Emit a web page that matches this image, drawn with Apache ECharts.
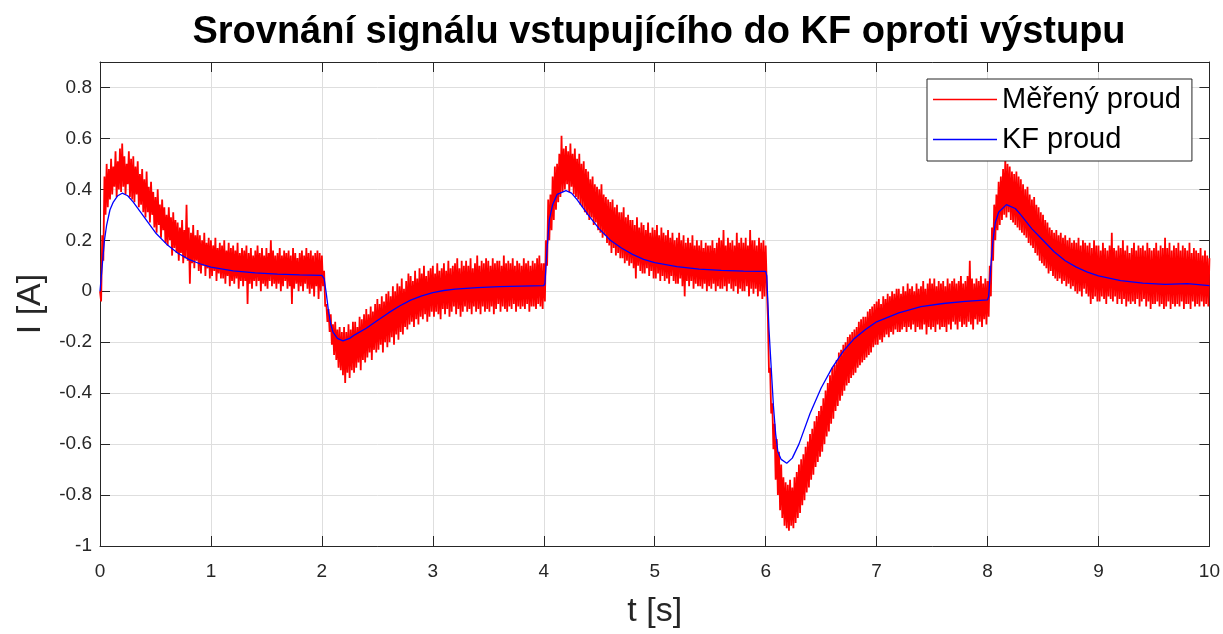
<!DOCTYPE html>
<html>
<head>
<meta charset="utf-8">
<script src="https://cdn.jsdelivr.net/npm/echarts@6/dist/echarts.min.js"></script>
<style>
html,body{margin:0;padding:0;background:#fff;}
#chart{width:1223px;height:634px;}
</style>
</head>
<body>
<div id="chart"></div>
<script>
// ---- data ----
const titleText = 'Srovnání signálu vstupujícího do KF oproti výstupu';
const seriesNames = ['Měřený proud', 'KF proud'];
const xTickValues = [0,1,2,3,4,5,6,7,8,9,10];
const xTickLabels = ['0','1','2','3','4','5','6','7','8','9','10'];
const yTickValues = [-1,-0.8,-0.6,-0.4,-0.2,0,0.2,0.4,0.6,0.8];
const yTickLabels = ['-1','-0.8','-0.6','-0.4','-0.2','0','0.2','0.4','0.6','0.8'];

// measured current: alternating noise peaks / troughs, one sample every 0.01 s (t = 0 .. 10 s), 10 per row
const measuredStep = 0.01;
const measured = [
  0.00,-0.04, 0.22, 0.12, 0.45, 0.30, 0.50, 0.33, 0.48, 0.36,
  0.52, 0.38, 0.49, 0.41, 0.55, 0.37, 0.51, 0.40, 0.56, 0.39,
  0.58, 0.41, 0.53, 0.38, 0.50, 0.42, 0.55, 0.37, 0.52, 0.36,
  0.53, 0.35, 0.49, 0.38, 0.51, 0.33, 0.46, 0.34, 0.48, 0.31,
  0.44, 0.29, 0.47, 0.31, 0.41, 0.27, 0.43, 0.30, 0.39, 0.25,
  0.37, 0.23, 0.40, 0.26, 0.34, 0.21, 0.36, 0.24, 0.33, 0.19,
  0.30, 0.18, 0.33, 0.20, 0.29, 0.14, 0.31, 0.17, 0.28, 0.15,
  0.27, 0.12, 0.25, 0.15, 0.28, 0.11, 0.24, 0.13, 0.34, 0.12,
  0.25, 0.03, 0.23, 0.11, 0.26, 0.09, 0.22, 0.12, 0.24, 0.08,
  0.22, 0.07, 0.20, 0.10, 0.23, 0.06, 0.19, 0.09, 0.21, 0.05,
  0.20, 0.06, 0.18, 0.08, 0.21, 0.04, 0.17, 0.07, 0.19, 0.05,
  0.18, 0.05, 0.20, 0.03, 0.16, 0.06, 0.19, 0.02, 0.17, 0.04,
  0.18, 0.03, 0.16, 0.05, 0.19, 0.01, 0.15, 0.04, 0.17, 0.02,
  0.16, 0.04, 0.18,-0.05, 0.15, 0.03, 0.17, 0.01, 0.14, 0.04,
  0.16, 0.02, 0.18, 0.04, 0.15, 0.00, 0.17, 0.03, 0.14, 0.02,
  0.17, 0.01, 0.15, 0.04, 0.20, 0.02, 0.16, 0.03, 0.14, 0.01,
  0.15, 0.03, 0.17, 0.00, 0.14, 0.02, 0.16, 0.04, 0.15, 0.01,
  0.16, 0.02, 0.14,-0.05, 0.17, 0.01, 0.15, 0.03, 0.13, 0.00,
  0.15, 0.02, 0.16, 0.00, 0.14, 0.03, 0.17, 0.01, 0.15,-0.01,
  0.16, 0.01, 0.14,-0.02, 0.15, 0.02, 0.16,-0.03, 0.15, 0.00,
  0.14, 0.02, 0.08,-0.06,-0.05,-0.12,-0.07,-0.16,-0.09,-0.21,
 -0.13,-0.25,-0.12,-0.27,-0.15,-0.30,-0.14,-0.31,-0.16,-0.33,
 -0.14,-0.36,-0.16,-0.32,-0.13,-0.34,-0.15,-0.31,-0.12,-0.32,
 -0.12,-0.30,-0.14,-0.28,-0.10,-0.31,-0.11,-0.27,-0.09,-0.28,
 -0.07,-0.26,-0.09,-0.24,-0.06,-0.27,-0.08,-0.23,-0.05,-0.24,
 -0.03,-0.23,-0.05,-0.21,-0.02,-0.24,-0.04,-0.20,-0.01,-0.22,
  0.00,-0.20,-0.02,-0.18, 0.02,-0.21, 0.00,-0.17, 0.03,-0.19,
  0.02,-0.16, 0.05,-0.17, 0.01,-0.14, 0.04,-0.15, 0.07,-0.13,
  0.06,-0.12, 0.04,-0.14, 0.08,-0.11, 0.05,-0.13, 0.09,-0.10,
  0.07,-0.11, 0.10,-0.09, 0.06,-0.12, 0.08,-0.10, 0.09,-0.08,
  0.10,-0.10, 0.07,-0.08, 0.11,-0.09, 0.08,-0.11, 0.09,-0.07,
  0.11,-0.09, 0.08,-0.07, 0.12,-0.10, 0.09,-0.08, 0.10,-0.06,
  0.11,-0.09, 0.13,-0.07, 0.09,-0.10, 0.12,-0.08, 0.10,-0.06,
  0.12,-0.08, 0.10,-0.07, 0.13,-0.09, 0.09,-0.06, 0.11,-0.08,
  0.14,-0.07, 0.10,-0.09, 0.12,-0.06, 0.11,-0.08, 0.13,-0.07,
  0.12,-0.08, 0.10,-0.06, 0.13,-0.09, 0.11,-0.07, 0.12,-0.05,
  0.12,-0.08, 0.10,-0.06, 0.14,-0.07, 0.11,-0.08, 0.12,-0.06,
  0.11,-0.07, 0.13,-0.05, 0.10,-0.08, 0.12,-0.06, 0.11,-0.07,
  0.10,-0.06, 0.13,-0.07, 0.11,-0.05, 0.12,-0.08, 0.10,-0.06,
  0.12,-0.06, 0.11,-0.07, 0.13,-0.05, 0.14,-0.06, 0.11,-0.07,
  0.11,-0.04, 0.20, 0.10, 0.36, 0.20, 0.38, 0.24, 0.45, 0.28,
  0.49, 0.32, 0.50, 0.35, 0.54, 0.37, 0.61, 0.39, 0.56, 0.40,
  0.57, 0.42, 0.55, 0.39, 0.58, 0.41, 0.54, 0.38, 0.56, 0.37,
  0.52, 0.36, 0.54, 0.34, 0.50, 0.33, 0.51, 0.31, 0.48, 0.30,
  0.47, 0.28, 0.44, 0.29, 0.45, 0.26, 0.42, 0.27, 0.41, 0.24,
  0.40, 0.23, 0.42, 0.21, 0.38, 0.22, 0.37, 0.19, 0.36, 0.18,
  0.35, 0.15, 0.36, 0.17, 0.33, 0.14, 0.34, 0.15, 0.31, 0.13,
  0.31, 0.13, 0.33, 0.11, 0.29, 0.12, 0.30, 0.10, 0.28, 0.11,
  0.28, 0.09, 0.26, 0.05, 0.29, 0.10, 0.25, 0.08, 0.27, 0.07,
  0.26, 0.07, 0.24, 0.09, 0.27, 0.06, 0.23, 0.08, 0.25, 0.05,
  0.24, 0.05, 0.26, 0.07, 0.22, 0.04, 0.25, 0.06, 0.23, 0.04,
  0.22, 0.05, 0.24, 0.03, 0.21, 0.06, 0.23, 0.04, 0.20, 0.03,
  0.21, 0.03, 0.23, 0.05, 0.20, 0.02, 0.22,-0.02, 0.19, 0.04,
  0.21, 0.02, 0.19, 0.04, 0.22, 0.01, 0.18, 0.03, 0.20, 0.02,
  0.18, 0.02, 0.20, 0.01, 0.17, 0.03, 0.19, 0.00, 0.18, 0.02,
  0.18, 0.01, 0.20, 0.03, 0.17, 0.00, 0.19, 0.02, 0.21, 0.01,
  0.20, 0.01, 0.24, 0.02, 0.18, 0.00, 0.21, 0.03, 0.19, 0.01,
  0.20, 0.00, 0.18, 0.02, 0.23,-0.01, 0.19, 0.01, 0.21, 0.00,
  0.19, 0.00, 0.21, 0.02, 0.18,-0.02, 0.24, 0.01, 0.20,-0.01,
  0.20, 0.01, 0.18,-0.02, 0.21, 0.00, 0.19,-0.03, 0.20,-0.02,
  0.18, 0.02,-0.10,-0.32,-0.30,-0.48,-0.44,-0.62,-0.52,-0.74,
 -0.58,-0.80,-0.63,-0.86,-0.68,-0.89,-0.73,-0.92,-0.75,-0.93,
 -0.76,-0.94,-0.74,-0.92,-0.77,-0.93,-0.73,-0.91,-0.71,-0.89,
 -0.68,-0.87,-0.66,-0.84,-0.64,-0.82,-0.61,-0.79,-0.59,-0.77,
 -0.56,-0.74,-0.54,-0.72,-0.51,-0.69,-0.49,-0.67,-0.47,-0.65,
 -0.45,-0.63,-0.42,-0.60,-0.39,-0.57,-0.36,-0.55,-0.33,-0.52,
 -0.30,-0.50,-0.29,-0.47,-0.27,-0.45,-0.24,-0.43,-0.23,-0.41,
 -0.21,-0.39,-0.20,-0.37,-0.18,-0.36,-0.17,-0.34,-0.16,-0.33,
 -0.15,-0.32,-0.14,-0.30,-0.12,-0.29,-0.11,-0.28,-0.10,-0.27,
 -0.10,-0.26,-0.08,-0.25,-0.07,-0.24,-0.06,-0.22,-0.05,-0.21,
 -0.04,-0.21,-0.03,-0.19,-0.05,-0.20,-0.02,-0.18,-0.03,-0.17,
 -0.01,-0.18,-0.02,-0.16, 0.00,-0.17,-0.01,-0.15, 0.01,-0.16,
  0.01,-0.16,-0.01,-0.15, 0.02,-0.14, 0.00,-0.16, 0.03,-0.14,
  0.01,-0.15, 0.02,-0.13, 0.00,-0.16, 0.03,-0.14, 0.01,-0.15,
  0.02,-0.15, 0.04,-0.13, 0.01,-0.17, 0.03,-0.14, 0.05,-0.15,
  0.03,-0.14, 0.05,-0.16, 0.02,-0.13, 0.04,-0.15, 0.03,-0.14,
  0.04,-0.14, 0.02,-0.16, 0.05,-0.13, 0.03,-0.15, 0.04,-0.12,
  0.05,-0.13, 0.03,-0.15, 0.04,-0.12, 0.06,-0.14, 0.03,-0.13,
  0.04,-0.14, 0.06,-0.12, 0.12,-0.13, 0.05,-0.15, 0.03,-0.11,
  0.05,-0.13, 0.04,-0.12, 0.06,-0.14, 0.03,-0.11, 0.05,-0.13,
  0.04,-0.10, 0.10,-0.02, 0.25, 0.12, 0.34, 0.20, 0.38, 0.24,
  0.43, 0.26, 0.45, 0.28, 0.48, 0.30, 0.52, 0.29, 0.50, 0.31,
  0.49, 0.28, 0.47, 0.27, 0.46, 0.26, 0.47, 0.25, 0.45, 0.24,
  0.44, 0.23, 0.42, 0.22, 0.40, 0.21, 0.41, 0.19, 0.38, 0.18,
  0.36, 0.17, 0.37, 0.15, 0.34, 0.14, 0.33, 0.12, 0.31, 0.11,
  0.30, 0.10, 0.28, 0.09, 0.27, 0.07, 0.25, 0.08, 0.24, 0.06,
  0.23, 0.05, 0.24, 0.04, 0.22, 0.05, 0.23, 0.03, 0.21, 0.04,
  0.22, 0.02, 0.20, 0.03, 0.21, 0.01, 0.19, 0.02, 0.20, 0.00,
  0.19,-0.01, 0.21, 0.00, 0.18,-0.02, 0.20, 0.01, 0.19,-0.01,
  0.18,-0.02, 0.19,-0.05, 0.17,-0.03, 0.20,-0.02, 0.18,-0.04,
  0.18,-0.04, 0.16,-0.02, 0.19,-0.03, 0.17,-0.05, 0.16,-0.02,
  0.18,-0.03, 0.23,-0.04, 0.17,-0.02, 0.16,-0.05, 0.18,-0.03,
  0.17,-0.05, 0.20,-0.03, 0.16,-0.06, 0.18,-0.04, 0.15,-0.05,
  0.17,-0.04, 0.19,-0.05, 0.16,-0.03, 0.18,-0.06, 0.17,-0.04,
  0.18,-0.03, 0.16,-0.06, 0.19,-0.04, 0.17,-0.07, 0.16,-0.05,
  0.17,-0.05, 0.19,-0.04, 0.16,-0.06, 0.18,-0.05, 0.17,-0.07,
  0.21,-0.06, 0.17,-0.04, 0.19,-0.07, 0.16,-0.05, 0.18,-0.06,
  0.17,-0.05, 0.19,-0.06, 0.16,-0.04, 0.18,-0.07, 0.17,-0.05,
  0.16,-0.05, 0.19,-0.07, 0.15,-0.04, 0.17,-0.06, 0.16,-0.05,
  0.15,-0.06, 0.17,-0.04, 0.14,-0.06, 0.16,-0.05, 0.14,-0.06,
  0.13
];

// Kalman filter output
const kfTime = [
  0, 0.02, 0.04, 0.06, 0.09, 0.12, 0.16, 0.2, 0.25, 0.3, 0.4, 0.5, 0.6, 0.7, 0.8, 0.9, 1.0, 1.2, 1.4, 1.6, 1.8, 2.0,
  2.02, 2.04, 2.06, 2.08, 2.1, 2.14, 2.19, 2.25, 2.3, 2.4, 2.5, 2.6, 2.7, 2.8, 2.9, 3.0, 3.1, 3.2, 3.4, 3.6, 3.8, 4.0,
  4.01, 4.03, 4.05, 4.08, 4.12, 4.2, 4.25, 4.3, 4.4, 4.5, 4.6, 4.7, 4.8, 4.9, 5.0, 5.2, 5.4, 5.6, 5.8, 6.0,
  6.01, 6.03, 6.05, 6.07, 6.09, 6.11, 6.14, 6.19, 6.24, 6.3, 6.4, 6.5, 6.6, 6.7, 6.8, 6.9, 7.0, 7.2, 7.4, 7.6, 7.8, 8.0,
  8.01, 8.03, 8.05, 8.07, 8.1, 8.17, 8.25, 8.3, 8.4, 8.5, 8.6, 8.7, 8.8, 8.9, 9.0, 9.2, 9.4, 9.6, 9.8, 10.0
];
const kfValue = [
  0, 0.10, 0.20, 0.26, 0.32, 0.35, 0.375, 0.385, 0.375, 0.35, 0.29, 0.23, 0.185, 0.15, 0.125, 0.108, 0.095, 0.08, 0.072, 0.067, 0.064, 0.062,
  0.05, -0.01, -0.08, -0.13, -0.16, -0.185, -0.195, -0.185, -0.17, -0.145, -0.115, -0.085, -0.058, -0.035, -0.018, -0.005, 0.003, 0.008, 0.014, 0.018, 0.02, 0.022,
  0.03, 0.17, 0.28, 0.34, 0.38, 0.395, 0.385, 0.36, 0.30, 0.245, 0.2, 0.17, 0.145, 0.125, 0.112, 0.097, 0.087, 0.082, 0.079, 0.078,
  0.06, -0.15, -0.30, -0.45, -0.56, -0.63, -0.66, -0.675, -0.655, -0.6, -0.48, -0.38, -0.30, -0.235, -0.185, -0.15, -0.12, -0.085, -0.06, -0.048, -0.04, -0.034,
  -0.02, 0.10, 0.205, 0.27, 0.31, 0.34, 0.325, 0.30, 0.245, 0.2, 0.155, 0.12, 0.095, 0.075, 0.06, 0.042, 0.032, 0.027, 0.03, 0.022
];

// ---- chart ----
const measuredData = measured.map((v, i) => [+(i * measuredStep).toFixed(2), v]);
const kfData = kfTime.map((t, i) => [t, kfValue[i]]);

function labelFor(values, labels, v) {
  for (let i = 0; i < values.length; i++) if (Math.abs(values[i] - v) < 1e-6) return labels[i];
  return '';
}

const axisColor = '#262626';
const gridColor = '#dedede';
const fontFamily = '"Liberation Sans", Arial, Helvetica, sans-serif';
const boxAxis = {
  axisLine: {show: true, onZero: false, lineStyle: {color: axisColor, width: 1}},
  axisTick: {show: true, inside: true, length: 10, lineStyle: {color: axisColor}}
};

const chart = echarts.init(document.getElementById('chart'), null, {renderer: 'canvas'});
chart.setOption({
  animation: false,
  backgroundColor: '#ffffff',
  title: {
    text: titleText,
    left: 654, top: 9, textAlign: 'center',
    textStyle: {fontFamily: fontFamily, fontWeight: 'bold', fontSize: 38, color: '#000000'}
  },
  legend: {
    orient: 'vertical',
    left: 927, top: 79,
    data: seriesNames.map(n => ({name: n, icon: 'rect'})),
    backgroundColor: '#ffffff',
    borderColor: axisColor, borderWidth: 1,
    padding: [6, 11, 7, 6],
    itemGap: 11,
    itemWidth: 64, itemHeight: 1.5,
    textStyle: {fontFamily: fontFamily, fontSize: 29, color: '#000000', lineHeight: 28}
  },
  grid: {left: 100, right: 13, top: 62, bottom: 86, containLabel: false},
  xAxis: [Object.assign({
    type: 'value', min: 0, max: 10, interval: 1,
    name: 't [s]', nameLocation: 'middle', nameGap: 49,
    nameTextStyle: {fontFamily: fontFamily, fontSize: 34, color: axisColor},
    axisLabel: {fontFamily: fontFamily, fontSize: 19, color: axisColor, margin: 16,
      formatter: v => labelFor(xTickValues, xTickLabels, v)},
    splitLine: {show: true, lineStyle: {color: gridColor, width: 1}}
  }, boxAxis), Object.assign({
    type: 'value', min: 0, max: 10, interval: 1, position: 'top',
    axisLabel: {show: false}, splitLine: {show: false}
  }, boxAxis)],
  yAxis: [Object.assign({
    type: 'value', min: -1, max: 0.9, interval: 0.2,
    name: 'I [A]', nameLocation: 'middle', nameGap: 52, nameRotate: 90,
    nameTextStyle: {fontFamily: fontFamily, fontSize: 34, color: axisColor},
    axisLabel: {fontFamily: fontFamily, fontSize: 19, color: axisColor, margin: 8,
      formatter: v => labelFor(yTickValues, yTickLabels, v)},
    splitLine: {show: true, lineStyle: {color: gridColor, width: 1}}
  }, boxAxis), Object.assign({
    type: 'value', min: -1, max: 0.9, interval: 0.2, position: 'right',
    axisLabel: {show: false}, splitLine: {show: false}
  }, boxAxis)],
  series: [{
    name: seriesNames[0], type: 'line', xAxisIndex: 0, yAxisIndex: 0,
    data: measuredData, symbol: 'none', smooth: false, sampling: false,
    lineStyle: {color: '#ff0000', width: 1.8}, itemStyle: {color: '#ff0000'}
  }, {
    name: seriesNames[1], type: 'line', xAxisIndex: 0, yAxisIndex: 0,
    data: kfData, symbol: 'none', smooth: false,
    lineStyle: {color: '#0000ff', width: 1.3}, itemStyle: {color: '#0000ff'}
  }]
});
</script>
</body>
</html>
